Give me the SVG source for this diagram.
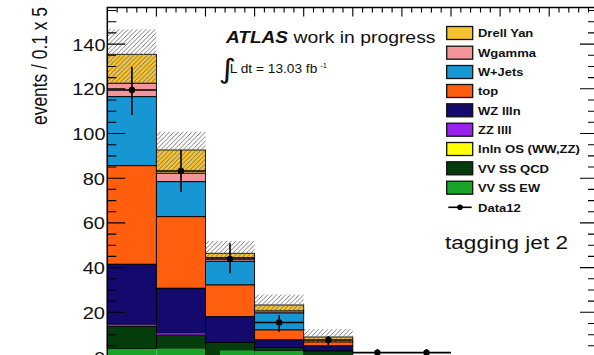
<svg xmlns="http://www.w3.org/2000/svg" width="594" height="355" viewBox="0 0 594 355">
<defs>
<pattern id="hatch" patternUnits="userSpaceOnUse" width="4.5" height="4.5">
<path d="M-1,1 l2,-2 M0,4.5 l4.5,-4.5 M3.5,5.5 l2,-2" stroke="#6a6a6a" stroke-width="0.9" fill="none"/>
</pattern>
<style>
.dy{fill:#F5C330}.wg{fill:#F4959B}.wj{fill:#1696D2}.top{fill:#FF5E0E}.wz{fill:#140A6E}.zz{fill:#9A22EE}.ln{fill:#FFFF00}.qcd{fill:#053C0C}.ew{fill:#1AA52A}
.bar rect{stroke:#000;stroke-width:0.9}
.tk{stroke:#000;stroke-width:1.1}
.ax{stroke:#000;stroke-width:1.5;fill:none}
.lab{font-family:"Liberation Sans",Arial,sans-serif;fill:#111}
.leg{font-family:"Liberation Sans",Arial,sans-serif;font-weight:bold;font-size:11.5px;fill:#111}
.legbox{stroke:#111;stroke-width:1.3}
.data{stroke:#000;stroke-width:1.6;fill:none}
</style>
</defs>
<rect width="594" height="355" fill="#fff"/>

<g id="stack" class="bar">
<g id="bin1">
<rect class="dy" x="107.3" y="54.3" width="49.1" height="29"/>
<rect class="wg" x="107.3" y="83.3" width="49.1" height="13.4"/>
<rect class="wj" x="107.3" y="96.7" width="49.1" height="69"/>
<rect class="top" x="107.3" y="165.7" width="49.1" height="98.6"/>
<rect class="wz" x="107.3" y="264.3" width="49.1" height="60.5"/>
<rect class="zz" x="107.3" y="324.8" width="49.1" height="1.7" style="stroke:none"/>
<rect class="qcd" x="107.3" y="326.5" width="49.1" height="22.5"/>
<rect class="ew" x="107.3" y="349" width="49.1" height="10" style="stroke:none"/>
</g>
<g id="bin2">
<rect class="dy" x="156.4" y="150" width="49.1" height="23.3"/>
<rect class="wg" x="156.4" y="173.3" width="49.1" height="8.4"/>
<rect class="wj" x="156.4" y="181.7" width="49.1" height="35"/>
<rect class="top" x="156.4" y="216.7" width="49.1" height="71.6"/>
<rect class="wz" x="156.4" y="288.3" width="49.1" height="45"/>
<rect class="zz" x="156.4" y="333.3" width="49.1" height="1.8" style="stroke:none"/>
<rect class="qcd" x="156.4" y="335.1" width="49.1" height="13.4"/>
<rect class="ew" x="156.4" y="348.5" width="49.1" height="10" style="stroke:none"/>
</g>
<g id="bin3">
<rect class="dy" x="205.5" y="253.3" width="49.1" height="4.4"/>
<rect class="wg" x="205.5" y="257.7" width="49.1" height="3.6"/>
<rect class="wj" x="205.5" y="261.3" width="49.1" height="23.7"/>
<rect class="top" x="205.5" y="285" width="49.1" height="31.7"/>
<rect class="wz" x="205.5" y="316.7" width="49.1" height="25.8"/>
<rect class="qcd" x="205.5" y="342.5" width="49.1" height="16"/>
<rect class="ew" x="220" y="350.5" width="34.6" height="8" style="stroke:none"/>
</g>
<g id="bin4">
<rect class="dy" x="254.6" y="305" width="49.1" height="6"/>
<rect class="wg" x="254.6" y="311" width="49.1" height="2"/>
<rect class="wj" x="254.6" y="313" width="49.1" height="17"/>
<rect class="top" x="254.6" y="330" width="49.1" height="10"/>
<rect class="wz" x="254.6" y="340" width="49.1" height="7.5"/>
<rect class="qcd" x="254.6" y="347.5" width="49.1" height="3.5"/>
<rect class="ew" x="254.6" y="351" width="49.1" height="8" style="stroke:none"/>
</g>
<g id="bin5">
<rect class="dy" x="303.7" y="337" width="49.1" height="5"/>
<rect class="top" x="303.7" y="342" width="49.1" height="4"/>
<rect class="wz" x="303.7" y="346" width="49.1" height="5"/>
<rect class="qcd" x="303.7" y="351" width="49.1" height="8"/>
</g>
</g>

<g id="uncertainty" fill="url(#hatch)">
<rect x="107.3" y="29.3" width="49.1" height="54"/>
<rect x="156.4" y="131.7" width="49.1" height="41.6"/>
<rect x="205.5" y="241" width="49.1" height="16.7"/>
<rect x="254.6" y="294.5" width="49.1" height="16.5"/>
<rect x="303.7" y="329" width="49.1" height="13"/>
</g>

<g id="axes">
<path class="ax" d="M107.3,362 V7.5 H594"/>
<path class="tk" d="M107.3,44.1 h18 M107.3,88.8 h18 M107.3,133.5 h18 M107.3,178.2 h18 M107.3,222.9 h18 M107.3,267.6 h18 M107.3,312.3 h18
M107.3,21.7 h9 M107.3,32.9 h9 M107.3,55.3 h9 M107.3,66.5 h9 M107.3,77.6 h9 M107.3,100 h9 M107.3,111.2 h9 M107.3,122.3 h9 M107.3,144.7 h9 M107.3,155.9 h9 M107.3,167 h9 M107.3,189.4 h9 M107.3,200.6 h9 M107.3,211.7 h9 M107.3,234.1 h9 M107.3,245.3 h9 M107.3,256.4 h9 M107.3,278.8 h9 M107.3,290 h9 M107.3,301.1 h9 M107.3,323.5 h9 M107.3,334.7 h9 M107.3,345.8 h9 M107.3,10.5 h9"/>
<path class="tk" d="M594,44.1 h-14 M594,88.8 h-14 M594,133.5 h-14 M594,178.2 h-14 M594,222.9 h-14 M594,267.6 h-14 M594,312.3 h-14
M594,21.7 h-6 M594,32.9 h-6 M594,55.3 h-6 M594,66.5 h-6 M594,77.6 h-6 M594,100 h-6 M594,111.2 h-6 M594,122.3 h-6 M594,144.7 h-6 M594,155.9 h-6 M594,167 h-6 M594,189.4 h-6 M594,200.6 h-6 M594,211.7 h-6 M594,234.1 h-6 M594,245.3 h-6 M594,256.4 h-6 M594,278.8 h-6 M594,290 h-6 M594,301.1 h-6 M594,323.5 h-6 M594,334.7 h-6 M594,345.8 h-6 M594,10.5 h-6"/>
<path class="tk" d="M156.4,7.5 v9 M205.5,7.5 v9 M254.6,7.5 v9 M303.7,7.5 v9 M352.8,7.5 v9 M401.9,7.5 v9 M451,7.5 v9 M500.1,7.5 v9 M549.2,7.5 v9
M117.1,7.5 v5 M126.9,7.5 v5 M136.8,7.5 v5 M146.6,7.5 v5 M166.2,7.5 v5 M176,7.5 v5 M185.9,7.5 v5 M195.7,7.5 v5 M215.3,7.5 v5 M225.1,7.5 v5 M235,7.5 v5 M244.8,7.5 v5 M264.4,7.5 v5 M274.2,7.5 v5 M284.1,7.5 v5 M293.9,7.5 v5 M313.5,7.5 v5 M323.3,7.5 v5 M333.2,7.5 v5 M343,7.5 v5 M362.6,7.5 v5 M372.4,7.5 v5 M382.3,7.5 v5 M392.1,7.5 v5 M411.7,7.5 v5 M421.5,7.5 v5 M431.4,7.5 v5 M441.2,7.5 v5 M460.8,7.5 v5 M470.6,7.5 v5 M480.5,7.5 v5 M490.3,7.5 v5 M509.9,7.5 v5 M519.7,7.5 v5 M529.6,7.5 v5 M539.4,7.5 v5 M559,7.5 v5 M568.8,7.5 v5 M578.7,7.5 v5 M588.5,7.5 v5"/>
<g class="lab" font-size="15.8" text-anchor="end">
<text x="105.5" y="50.6" textLength="33.3" lengthAdjust="spacingAndGlyphs">140</text>
<text x="105.5" y="95.3" textLength="33.3" lengthAdjust="spacingAndGlyphs">120</text>
<text x="105.5" y="140" textLength="33.3" lengthAdjust="spacingAndGlyphs">100</text>
<text x="105" y="184.7" textLength="22.3" lengthAdjust="spacingAndGlyphs">80</text>
<text x="105" y="229.4" textLength="22.3" lengthAdjust="spacingAndGlyphs">60</text>
<text x="105" y="274.1" textLength="22.3" lengthAdjust="spacingAndGlyphs">40</text>
<text x="105" y="318.8" textLength="22.3" lengthAdjust="spacingAndGlyphs">20</text>
<text x="105" y="363.5" textLength="11.1" lengthAdjust="spacingAndGlyphs">0</text>
</g>
<text class="lab" font-size="17.8" text-anchor="middle" transform="translate(46.5,66) scale(1.27,1) rotate(-90)" textLength="118" lengthAdjust="spacingAndGlyphs">events / 0.1 x 5</text>
</g>

<g id="data">
<path class="data" d="M107.3,90 H156.4 M131.9,66.7 V115 M156.4,171 H205.5 M181,150 V191.7 M205.5,259 H254.6 M230,243.3 V273.3 M254.6,322.5 H303.7 M279.2,315 V331.7 M303.7,340 H352.8 M328.3,336 V345 M352.8,352.6 H451 M377.4,349 V358 M426.5,349 V358"/>
<g fill="#000">
<circle cx="131.9" cy="90" r="3.2"/>
<circle cx="181" cy="171" r="3.2"/>
<circle cx="230" cy="259" r="3.2"/>
<circle cx="279.2" cy="322.5" r="3.2"/>
<circle cx="328.3" cy="340" r="3.2"/>
<circle cx="377.4" cy="352.6" r="3.2"/>
<circle cx="426.5" cy="352.6" r="3.2"/>
</g>
</g>

<g id="title" class="lab">
<text x="226" y="43" font-size="17" font-weight="bold" font-style="italic" textLength="62" lengthAdjust="spacingAndGlyphs">ATLAS</text>
<text x="293.5" y="43" font-size="17" textLength="142" lengthAdjust="spacingAndGlyphs">work in progress</text>
<text x="218.5" y="78.5" font-size="27" font-family="DejaVu Sans,sans-serif" transform="translate(218.5,0) scale(1.25,1) translate(-218.5,0)">∫</text>
<text x="229.8" y="73.3" font-size="13" textLength="87.5" lengthAdjust="spacingAndGlyphs">L dt = 13.03 fb</text>
<text x="320.3" y="68" font-size="7.5">-1</text>
<text x="445" y="249.3" font-size="17.5" textLength="123" lengthAdjust="spacingAndGlyphs">tagging jet 2</text>
</g>

<g id="legend">
<g id="leg-dy"><rect class="legbox dy" x="446.7" y="26.5" width="26" height="13"/><text class="leg" x="478" y="37.3" textLength="55.3" lengthAdjust="spacingAndGlyphs">Drell Yan</text></g>
<g id="leg-wg"><rect class="legbox wg" x="446.7" y="46.2" width="26" height="13"/><text class="leg" x="478" y="57" textLength="58" lengthAdjust="spacingAndGlyphs">Wgamma</text></g>
<g id="leg-wj"><rect class="legbox wj" x="446.7" y="65.5" width="26" height="13"/><text class="leg" x="478" y="76.3" textLength="45.3" lengthAdjust="spacingAndGlyphs">W+Jets</text></g>
<g id="leg-top"><rect class="legbox top" x="446.7" y="84.5" width="26" height="13"/><text class="leg" x="478" y="95.3" textLength="20.3" lengthAdjust="spacingAndGlyphs">top</text></g>
<g id="leg-wz"><rect class="legbox wz" x="446.7" y="103.8" width="26" height="13"/><text class="leg" x="478" y="114.6" textLength="42.7" lengthAdjust="spacingAndGlyphs">WZ llln</text></g>
<g id="leg-zz"><rect class="legbox zz" x="446.7" y="123.2" width="26" height="13"/><text class="leg" x="478" y="134" textLength="33.7" lengthAdjust="spacingAndGlyphs">ZZ llll</text></g>
<g id="leg-ln"><rect class="legbox ln" x="446.7" y="142.5" width="26" height="13"/><text class="leg" x="478" y="153.3" textLength="102" lengthAdjust="spacingAndGlyphs">lnln OS (WW,ZZ)</text></g>
<g id="leg-qcd"><rect class="legbox qcd" x="446.7" y="161.8" width="26" height="13"/><text class="leg" x="478" y="172.6" textLength="71" lengthAdjust="spacingAndGlyphs">VV SS QCD</text></g>
<g id="leg-ew"><rect class="legbox ew" x="446.7" y="181.2" width="26" height="13"/><text class="leg" x="478" y="192" textLength="62" lengthAdjust="spacingAndGlyphs">VV SS EW</text></g>
<g id="leg-data"><path class="data" d="M448.3,207.3 H471.7"/><circle cx="460" cy="207.3" r="2.8" fill="#000"/><text class="leg" x="478" y="211.6" textLength="42.7" lengthAdjust="spacingAndGlyphs">Data12</text></g>
</g>
</svg>
